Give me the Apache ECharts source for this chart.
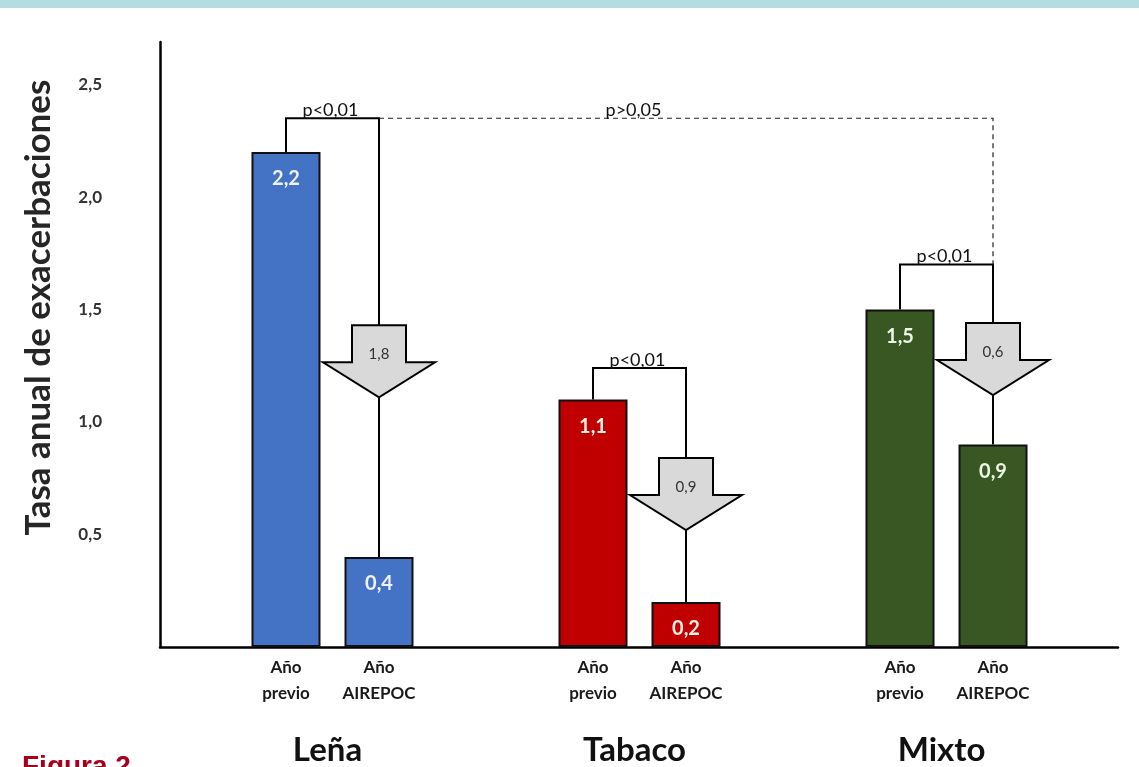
<!DOCTYPE html>
<html>
<head>
<meta charset="utf-8">
<script src="https://cdn.jsdelivr.net/npm/echarts@6/dist/echarts.min.js"></script>
<style>
  html, body { margin: 0; padding: 0; background: #ffffff; }
  #chart { width: 1139px; height: 767px; }
</style>
</head>
<body>
<div id="chart"></div>
<script>
// Exacerbation rate per year, before and during the AIREPOC year
const groups = ['Leña', 'Tabaco', 'Mixto'];
const periodLabels = ['Año\nprevio', 'Año\nAIREPOC'];
const ratePrevious = [2.2, 1.1, 1.5];
const rateAirepoc = [0.4, 0.2, 0.9];
const reduction = [1.8, 0.9, 0.6];
const pWithin = ['p<0,01', 'p<0,01', 'p<0,01'];
const pLenaVsMixto = 'p>0,05';
const yTicks = [0.5, 1.0, 1.5, 2.0, 2.5];

// Heights (axis units) of the significance brackets and reduction arrows
const bracketLevel = [2.35, 1.24, 1.70];
const arrowTopLevel = [1.43, 0.84, 1.44];

const FONT = 'Lato, "Open Sans", sans-serif';
const groupColors = ['#4472c4', '#c00000', '#385723'];
const valueLabelColors = ['#eef2fa', '#fdeee6', '#ecf5e6'];
const BAR_W = 69;
const BAR_GAP = 24;
const HALF = (BAR_W + BAR_GAP) / 2;

const fmt = v => v.toFixed(1).replace('.', ',');

function barData(values) {
  return values.map((v, i) => ({
    value: [i, v],
    itemStyle: { color: groupColors[i] },
    label: { color: valueLabelColors[i] }
  }));
}

const barCommon = {
  type: 'bar',
  barWidth: BAR_W,
  barGap: (BAR_GAP / BAR_W * 100).toFixed(1) + '%',
  clip: true,
  itemStyle: { borderColor: '#111111', borderWidth: 2 },
  label: {
    show: true,
    position: 'insideTop',
    distance: 17,
    fontFamily: FONT,
    fontSize: 20,
    fontWeight: 'bold',
    formatter: p => fmt(p.value[1])
  }
};

const chart = echarts.init(document.getElementById('chart'));

chart.setOption({
  animation: false,
  backgroundColor: '#ffffff',
  grid: { left: 160, right: 21, top: 42, bottom: 120 },
  xAxis: {
    type: 'value',
    min: -0.5619,
    max: 2.5586,
    axisLine: { onZero: false, lineStyle: { color: '#000000', width: 2.5 } },
    axisTick: { show: false },
    axisLabel: { show: false },
    splitLine: { show: false }
  },
  yAxis: {
    type: 'value',
    min: 0,
    max: 2.689,
    name: 'Tasa anual de exacerbaciones',
    nameLocation: 'middle',
    nameRotate: 90,
    nameGap: 104,
    nameTextStyle: {
      fontFamily: FONT,
      fontSize: 35,
      fontWeight: 'bold',
      color: '#262626',
      padding: [0, 0, 0, 74]
    },
    axisLine: { show: true, onZero: false, lineStyle: { color: '#000000', width: 2.5 } },
    axisTick: { show: false },
    splitLine: { show: false },
    axisLabel: {
      customValues: yTicks,
      margin: 58,
      fontFamily: FONT,
      fontSize: 17,
      fontWeight: 'bold',
      color: '#333333',
      formatter: v => fmt(v)
    }
  },
  graphic: [
    { type: 'rect', left: 0, top: 0, shape: { width: 1139, height: 8 }, style: { fill: '#b3dde1' } },
    {
      type: 'text', left: 22, top: 753,
      style: { text: 'Figura 2', fill: '#a8001c', font: 'bold 28px "Liberation Sans", Arial, sans-serif' }
    }
  ],
  series: [
    Object.assign({}, barCommon, { name: 'Año previo', data: barData(ratePrevious) }),
    Object.assign({}, barCommon, { name: 'Año AIREPOC', data: barData(rateAirepoc) }),
    {
      // bracket, reduction arrow and p-value inside each group
      type: 'custom',
      name: 'reducción',
      encode: { x: 0, y: 1 },
      data: groups.map((g, i) => [i, bracketLevel[i], arrowTopLevel[i], ratePrevious[i], rateAirepoc[i], reduction[i]]),
      renderItem: (params, api) => {
        const g = api.value(0);
        const cx = api.coord([g, 0])[0];
        const xL = cx - HALF;
        const xR = cx + HALF;
        const yBr = api.coord([g, api.value(1)])[1];
        const yArr = api.coord([g, api.value(2)])[1];
        const yPrev = api.coord([g, api.value(3)])[1];
        const yAir = api.coord([g, api.value(4)])[1];
        const tip = yArr + 72;
        const stroke = { stroke: '#000000', lineWidth: 2, fill: null };
        return {
          type: 'group',
          children: [
            { type: 'polyline', shape: { points: [[xL, yPrev], [xL, yBr], [xR, yBr], [xR, yArr]] }, style: stroke },
            { type: 'line', shape: { x1: xR, y1: tip, x2: xR, y2: yAir }, style: stroke },
            {
              type: 'polygon',
              shape: { points: [[xR - 27, yArr], [xR + 27, yArr], [xR + 27, yArr + 37], [xR + 56, yArr + 37],
                                [xR, tip], [xR - 56, yArr + 37], [xR - 27, yArr + 37]] },
              style: { fill: '#d9d9d9', stroke: '#000000', lineWidth: 2 }
            },
            {
              type: 'text', x: xR, y: yArr + 29,
              style: { text: fmt(api.value(5)), fill: '#333333', font: '15px ' + FONT, align: 'center', verticalAlign: 'middle' }
            },
            {
              type: 'text', x: (xL + xR) / 2 - 2, y: yBr + 1,
              style: { text: pWithin[params.dataIndex], fill: '#111111', font: '18px ' + FONT, align: 'center', verticalAlign: 'bottom' }
            }
          ]
        };
      }
    },
    {
      // Leña versus Mixto comparison
      type: 'custom',
      name: 'Leña vs Mixto',
      encode: { x: [0, 1], y: [2, 3] },
      data: [[0, 2, bracketLevel[0], bracketLevel[2]]],
      renderItem: (params, api) => {
        const x0 = api.coord([api.value(0), 0])[0] + HALF;
        const x2 = api.coord([api.value(1), 0])[0] + HALF;
        const xMid = api.coord([1, 0])[0];
        const y0 = api.coord([0, api.value(2)])[1];
        const y2 = api.coord([0, api.value(3)])[1];
        return {
          type: 'group',
          children: [
            {
              type: 'polyline',
              shape: { points: [[x0, y0], [x2, y0], [x2, y2]] },
              style: { stroke: '#222222', lineWidth: 1.2, lineDash: [5, 4], fill: null }
            },
            {
              type: 'text', x: xMid - 6, y: y0 + 1,
              style: { text: pLenaVsMixto, fill: '#111111', font: '18px ' + FONT, align: 'center', verticalAlign: 'bottom' }
            }
          ]
        };
      }
    },
    {
      // period and group names under the baseline
      type: 'custom',
      name: 'categorías',
      encode: { x: 0, y: 1 },
      data: groups.map((g, i) => [i, 0]),
      renderItem: (params, api) => {
        const g = api.value(0);
        const cx = api.coord([g, 0])[0];
        const base = params.coordSys.y + params.coordSys.height;
        const sub = (x, t) => ({
          type: 'text', x: x, y: base + 8,
          style: { text: t, fill: '#1a1a1a', font: 'bold 17px ' + FONT, align: 'center', verticalAlign: 'top', lineHeight: 26 }
        });
        return {
          type: 'group',
          children: [
            sub(cx - HALF, periodLabels[0]),
            sub(cx + HALF, periodLabels[1]),
            {
              type: 'text', x: cx - 5, y: base + 103,
              style: { text: groups[params.dataIndex], fill: '#111111', font: 'bold 33px ' + FONT, align: 'center', verticalAlign: 'middle' }
            }
          ]
        };
      }
    }
  ]
});
</script>
</body>
</html>
